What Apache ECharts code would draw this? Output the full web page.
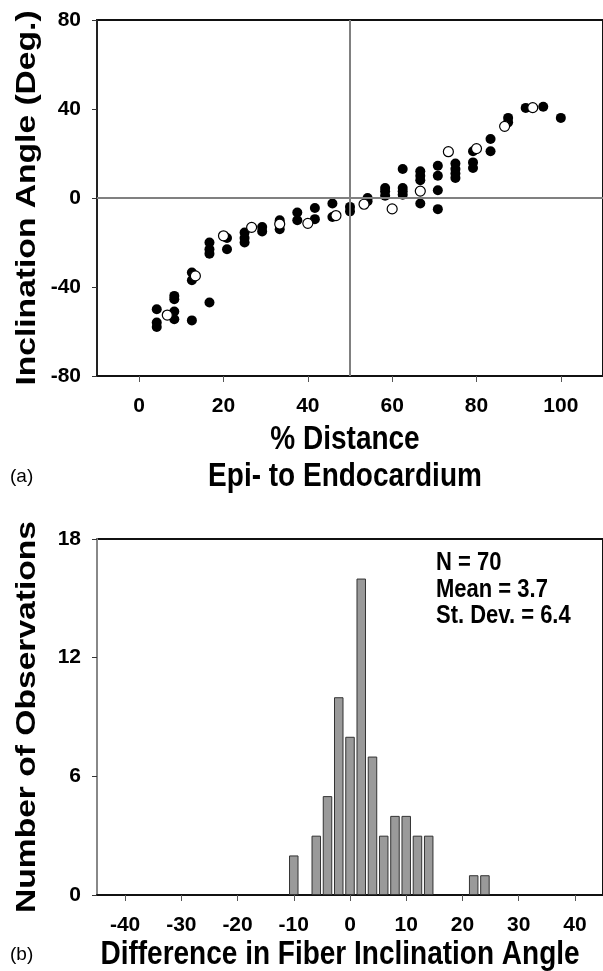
<!DOCTYPE html>
<html>
<head>
<meta charset="utf-8">
<script src="https://cdn.jsdelivr.net/npm/echarts@6/dist/echarts.min.js"></script>
<style>
html, body { margin: 0; padding: 0; background: #fff; }
#chart { width: 603px; height: 971px; }
</style>
</head>
<body>
<div id="chart"></div>
<script>
// (a) inclination angle vs transmural depth
const filledPoints = [
    [4.17, -50], [4.17, -56], [4.17, -58],
    [8.33, -44], [8.33, -45.5], [8.33, -51], [8.33, -54.5],
    [12.5, -33.5], [12.5, -37], [12.5, -55],
    [16.67, -20], [16.67, -23], [16.67, -25], [16.67, -47],
    [20.83, -18], [20.83, -23],
    [25, -15.5], [25, -18], [25, -20],
    [29.17, -13], [29.17, -15],
    [33.33, -10], [33.33, -14],
    [37.5, -6.5], [37.5, -10],
    [41.67, -4.5], [41.67, -9.5],
    [45.83, -2.5], [45.83, -8.5],
    [50, -4], [50, -6],
    [54.17, 0], [54.17, -1.5],
    [58.33, 4.5], [58.33, 3], [58.33, 1],
    [62.5, 13], [62.5, 4.5], [62.5, 3], [62.5, 1.5],
    [66.67, 12], [66.67, 10], [66.67, 8], [66.67, -2.5],
    [70.83, 14.5], [70.83, 10], [70.83, 3.5], [70.83, -5],
    [75, 15.5], [75, 13], [75, 11], [75, 9],
    [79.17, 21], [79.17, 16], [79.17, 13.5],
    [83.33, 26.5], [83.33, 21],
    [87.5, 36], [87.5, 34],
    [91.67, 40.5], [95.83, 41], [100, 36]
];
const openPoints = [
    [6.67, -52.6], [13.33, -35], [20, -17], [26.67, -13.2], [33.33, -11.7],
    [40, -11.4], [46.67, -7.9], [53.33, -2.8], [60, -4.9], [66.67, 3.1],
    [73.33, 20.8], [80, 22.2], [86.67, 32.2], [93.33, 40.6]
];
const distTicks = [0, 20, 40, 60, 80, 100];

// (b) histogram of differences
const diffBins = [-10, -6, -4, -2, 0, 2, 4, 6, 8, 10, 12, 14, 22, 24];
const diffCounts = [2, 3, 5, 10, 8, 16, 7, 3, 4, 4, 3, 3, 1, 1];
const diffTicks = [-40, -30, -20, -10, 0, 10, 20, 30, 40];
const statLines = ['N = 70', 'Mean = 3.7', 'St. Dev. = 6.4'];

const FONT = '"Liberation Sans", Arial, sans-serif';

let myChart = echarts.init(document.getElementById('chart'), null, { renderer: 'canvas' });

function axisLbl() {
    return { color: '#000', fontSize: 21, fontWeight: 'bold', fontFamily: FONT };
}

// bold titles, stretched a little along their length/height like the original
function titleText(text, x, y, size, rotate, stretch) {
    return {
        type: 'text',
        x: x, y: y,
        rotation: rotate ? Math.PI / 2 : 0,
        scaleX: rotate ? stretch : 1,
        scaleY: rotate ? 1 : stretch,
        style: {
            text: text,
            font: 'bold ' + size + 'px ' + FONT,
            fill: '#000',
            align: 'center',
            verticalAlign: 'middle'
        }
    };
}

let option = {
    backgroundColor: '#fff',
    animation: false,
    grid: [
        { left: 97, top: 20, width: 510, height: 356, show: true, borderColor: '#111', borderWidth: 2, backgroundColor: 'transparent' },
        { left: 97, top: 539, width: 510, height: 356, show: true, borderColor: '#111', borderWidth: 2, backgroundColor: 'transparent' }
    ],
    xAxis: [
        {
            gridIndex: 0, type: 'value', min: -10, max: 110,
            axisLine: { onZero: false, lineStyle: { color: '#111', width: 2 } },
            axisTick: { customValues: distTicks, length: 6, lineStyle: { color: '#555', width: 1 } },
            axisLabel: Object.assign(axisLbl(), { customValues: distTicks, margin: 20 }),
            splitLine: { show: false }
        },
        {
            gridIndex: 1, type: 'value', min: -45, max: 45,
            axisLine: { onZero: false, lineStyle: { color: '#111', width: 2 } },
            axisTick: { customValues: diffTicks, length: 6, lineStyle: { color: '#555', width: 1 } },
            axisLabel: Object.assign(axisLbl(), { customValues: diffTicks, margin: 20 }),
            splitLine: { show: false }
        }
    ],
    yAxis: [
        {
            gridIndex: 0, type: 'value', min: -80, max: 80, interval: 40,
            axisLine: { show: true, onZero: false, lineStyle: { color: '#222', width: 2 } },
            axisTick: { show: true, length: 5, lineStyle: { color: '#333', width: 1 } },
            axisLabel: Object.assign(axisLbl(), { margin: 16 }),
            splitLine: { show: false }
        },
        {
            gridIndex: 1, type: 'value', min: 0, max: 18, interval: 6,
            axisLine: { show: true, onZero: false, lineStyle: { color: '#888', width: 2 } },
            axisTick: { show: true, length: 5, lineStyle: { color: '#333', width: 1 } },
            axisLabel: Object.assign(axisLbl(), { margin: 16 }),
            splitLine: { show: false }
        }
    ],
    series: [
        {
            name: 'filled', type: 'scatter', xAxisIndex: 0, yAxisIndex: 0,
            data: filledPoints, symbolSize: 10,
            itemStyle: { color: '#000', opacity: 1 },
            markLine: {
                silent: true, symbol: 'none', animation: false,
                label: { show: false },
                lineStyle: { color: '#808080', width: 2, type: 'solid' },
                data: [{ xAxis: 50 }, { yAxis: 0 }]
            },
            z: 3
        },
        {
            name: 'open', type: 'scatter', xAxisIndex: 0, yAxisIndex: 0,
            data: openPoints, symbolSize: 10,
            itemStyle: { color: '#fff', borderColor: '#000', borderWidth: 1.2, opacity: 1 },
            z: 4
        },
        {
            name: 'hist', type: 'bar', xAxisIndex: 1, yAxisIndex: 1,
            data: diffBins.map((b, i) => [b, diffCounts[i]]),
            barWidth: 9.5,
            itemStyle: { color: '#9a9a9a', borderColor: '#333', borderWidth: 1 }
        }
    ],
    graphic: [
        titleText('Inclination Angle (Deg.)', 27, 198, 28, true, 1.2),
        titleText('% Distance', 345, 440, 28, false, 1.2),
        titleText('Epi- to Endocardium', 345, 477, 28, false, 1.2),
        titleText('Number of Observations', 27, 717, 28, true, 1.2),
        titleText('Difference in Fiber Inclination Angle', 340, 955, 28, false, 1.2),
        { type: 'text', x: 10, y: 477, style: { text: '(a)', font: '19px ' + FONT, fill: '#000', verticalAlign: 'middle' } },
        { type: 'text', x: 10, y: 955, style: { text: '(b)', font: '19px ' + FONT, fill: '#000', verticalAlign: 'middle' } },
        { type: 'text', x: 436, y: 563, scaleY: 1.2, style: { text: statLines[0], font: 'bold 22px ' + FONT, fill: '#000', verticalAlign: 'middle' } },
        { type: 'text', x: 436, y: 590, scaleY: 1.2, style: { text: statLines[1], font: 'bold 22px ' + FONT, fill: '#000', verticalAlign: 'middle' } },
        { type: 'text', x: 436, y: 616, scaleY: 1.2, style: { text: statLines[2], font: 'bold 22px ' + FONT, fill: '#000', verticalAlign: 'middle' } }
    ]
};

myChart.setOption(option);
</script>
</body>
</html>
